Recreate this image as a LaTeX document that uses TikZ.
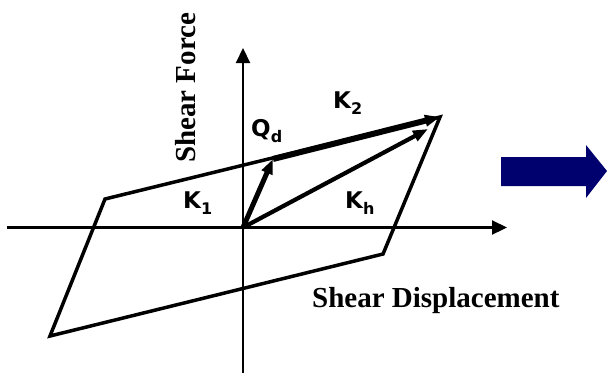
\documentclass[tikz,border=0pt]{standalone}
\usepackage{fontspec}
\setmainfont{Liberation Serif}
\newfontfamily\labfont{DejaVu Sans}
\usetikzlibrary{arrows.meta}
\definecolor{navy}{RGB}{0,0,110}
\tikzset{
  axis/.style={line width=2.2pt,-{Triangle[length=15pt,width=14pt]}},
  loop/.style={line width=3.5pt,line join=miter},
  vec/.style={-{Triangle[length=15pt,width=11pt]}},
  klab/.style={inner sep=0pt,anchor=base west,font=\labfont\bfseries\fontsize{23}{23}\selectfont},
  title/.style={inner sep=0pt,anchor=base west,font=\bfseries\fontsize{29}{29}\selectfont},
}
\newcommand{\mysub}[1]{\raisebox{-0.3em}{\fontsize{16}{16}\selectfont #1}}
\begin{document}
\begin{tikzpicture}[x=1pt,y=-1pt]
\useasboundingbox (0,0) rectangle (607,373);
\coordinate (O) at (243,227.5);
\coordinate (xl) at (7,227.5);
\coordinate (xr) at (507,227.5);
\coordinate (yb) at (243,373);
\coordinate (yt) at (243,48);
\coordinate (A) at (105,199);
\coordinate (B) at (50,336);
\coordinate (C) at (383,254);
\coordinate (D) at (440,117);
\coordinate (Q) at (273,159);
\coordinate (H) at (428,129);
% axes
\draw[axis] (xl) -- (xr);
\draw[axis] (yb) -- (yt);
% hysteresis loop
\draw[loop] (A) -- (B) -- (C) -- (D) -- cycle;
% vectors
\draw[vec,line width=5pt] (O) -- (Q);
\draw[vec,line width=6pt] (Q) -- (D);
\draw[vec,line width=4.2pt] (O) -- (H);
% labels
\node[klab] (k2) at (333,108) {K\mysub{2}};
\node[klab] (qd) at (251,136) {Q\mysub{d}};
\node[klab] (k1) at (183,208) {K\mysub{1}};
\node[klab] (kh) at (345,208) {K\mysub{h}};
\node[title] (sd) at (312,307) {Shear Displacement};
\node[title,rotate=90] (sf) at (195,163) {Shear Force};
% big arrow
\fill[navy] (501,157) -- (586,157) -- (586,145) -- (607,171) -- (586,198) -- (586,186) -- (501,186) -- cycle;
\end{tikzpicture}
\end{document}
